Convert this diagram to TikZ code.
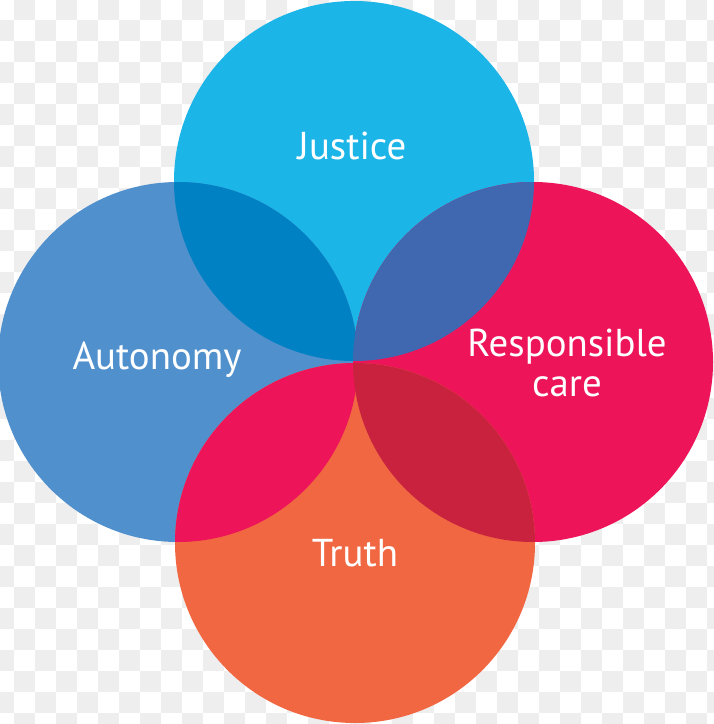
\documentclass[tikz,border=0pt]{standalone}
\usepackage{fontspec}
\setmainfont{PT Sans}
\definecolor{bggray}{HTML}{EEEEEE}
\definecolor{cjust}{HTML}{1CB5E8}
\definecolor{cauto}{HTML}{5090CC}
\definecolor{cresp}{HTML}{ED145A}
\definecolor{ctruth}{HTML}{F16742}
\definecolor{cja}{HTML}{0081C3}
\definecolor{cjr}{HTML}{4068B0}
\definecolor{cat}{HTML}{ED1459}
\definecolor{crt}{HTML}{C8223E}
\tikzset{
  lbl/.style={text=white, font=\fontsize{39}{40}\selectfont, align=center, inner sep=0pt},
}
\begin{document}
\begin{tikzpicture}[x=1bp, y={(0,-1bp)}]
\useasboundingbox (0,0) rectangle (714,724);
\fill[white] (0,0) rectangle (714,724);
\begin{scope}
\clip (0,0) rectangle (714,724);
\foreach \i in {0,...,34}{
  \foreach \j in {0,...,35}{
    \pgfmathtruncatemacro{\odd}{mod(\i+\j,2)}
    \ifnum\odd=1
      \fill[bggray] ({-7+21*\i},{-1+21*\j}) rectangle ++(21,21);
    \fi
  }
}
\end{scope}
\coordinate (J) at (354,181);
\coordinate (A) at (178,362);
\coordinate (R) at (533,362);
\coordinate (T) at (355,543);
\def\rad{180}
\fill[cjust] (J) circle[radius=\rad];
\fill[cauto] (A) circle[radius=\rad];
\fill[cresp] (R) circle[radius=\rad];
\fill[ctruth] (T) circle[radius=\rad];
\begin{scope}
  \clip (J) circle[radius=\rad];
  \fill[cja] (A) circle[radius=\rad];
  \fill[cjr] (R) circle[radius=\rad];
\end{scope}
\begin{scope}
  \clip (T) circle[radius=\rad];
  \fill[cat] (A) circle[radius=\rad];
  \fill[crt] (R) circle[radius=\rad];
\end{scope}
\node[lbl] (justice) at (352,146) {Justice};
\node[lbl] (autonomy) at (157,360) {Autonomy};
\node[lbl] (resp) at (567,363) {Responsible\\care};
\node[lbl] (truth) at (355,553) {Truth};
\end{tikzpicture}
\end{document}
